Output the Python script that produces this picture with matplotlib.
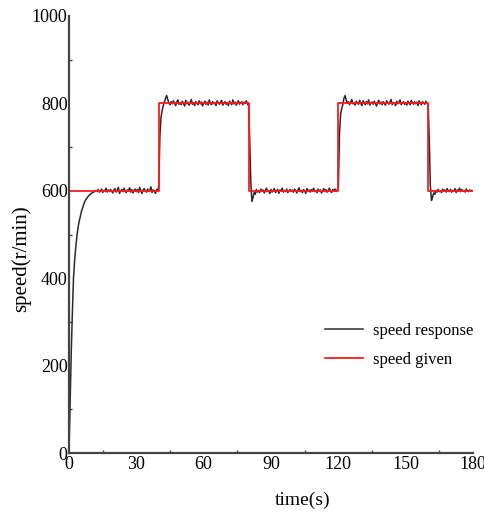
import numpy as np
import matplotlib.pyplot as plt
from matplotlib.ticker import MultipleLocator

plt.rcParams['font.family'] = ['Liberation Serif', 'DejaVu Serif']

# sample times (s), one value every 0.5 s
time = np.arange(0, 180, 0.5)

speed_response = [
    0, 120, 230, 320, 400, 440, 470, 495, 515, 530, 540, 552, 560, 568, 575, 580, 583, 587, 590, 592,
    594, 596, 597, 599, 601, 598, 603, 597, 600, 604, 596, 601, 599, 606, 597, 602, 598, 603, 600, 595,
    602, 605, 597, 601, 608, 594, 600, 603, 598, 606, 599, 596, 602, 600, 607, 597, 603, 595, 601, 604,
    598, 603, 596, 608, 600, 594, 602, 605, 599, 597, 604, 598, 601, 609, 596, 602, 600, 594, 603, 599,
    612, 725, 768, 784, 795, 803, 811, 818, 809, 801, 797, 804, 799, 806, 801, 795, 803, 808, 798, 802,
    797, 805, 800, 794, 807, 799, 803, 796, 801, 809, 798, 802, 795, 804, 800, 797, 806, 799, 803, 794,
    801, 805, 798, 803, 796, 808, 800, 797, 804, 799, 802, 795, 806, 801, 798, 803, 807, 796, 800, 804,
    798, 802, 795, 805, 801, 797, 808, 799, 803, 796, 802, 806, 798, 801, 804, 797, 803, 800, 806, 799,
    795, 720, 620, 576, 585, 596, 592, 603, 597, 601, 596, 604, 599, 602, 595, 601, 606, 598, 600, 594,
    603, 597, 601, 605, 596, 600, 603, 594, 602, 599, 606, 597, 601, 598, 604, 596, 600, 603, 598, 602,
    597, 604, 600, 595, 602, 607, 598, 601, 596, 603, 600, 594, 605, 599, 602, 597, 603, 600, 606, 598,
    601, 596, 604, 599, 602, 595, 600, 605, 598, 603, 597, 601, 606, 599, 596, 603, 600, 604, 598, 602,
    608, 730, 775, 788, 797, 812, 818, 808, 800, 804, 797, 803, 809, 799, 802, 796, 805, 801, 798, 807,
    800, 795, 806, 802, 797, 804, 799, 808, 796, 801, 803, 798, 805, 800, 794, 802, 807, 799, 803, 797,
    804, 800, 796, 806, 801, 798, 803, 809, 797, 802, 800, 795, 805, 799, 803, 808, 797, 801, 804, 798,
    802, 796, 805, 800, 797, 807, 801, 798, 804, 799, 803, 795, 806, 800, 797, 804, 801, 798, 805, 800,
    797, 720, 612, 578, 586, 595, 592, 601, 597, 603, 598, 600, 596, 604, 599, 602, 597, 605, 600, 598,
    603, 597, 601, 599, 605, 596, 602, 600, 606, 598, 603, 599, 601, 597, 604, 600, 598, 602, 599, 601,
]

# reference speed: step times (s) and levels (r/min)
given_time = [0, 40, 40, 80, 80, 120, 120, 160, 160, 179.5]
given_speed = [600, 600, 800, 800, 600, 600, 800, 800, 600, 600]

fig = plt.figure(figsize=(4.85, 5.17), dpi=100)
ax = fig.add_axes([69 / 485, 1 - 453 / 517, 404 / 485, 437 / 517])

ax.plot(time, speed_response, color='#2a2a2a', lw=1.1, label='speed response')
ax.plot(given_time, given_speed, color='#ff1a1a', lw=1.3, label='speed given')

ax.set_xlim(0, 180)
ax.set_ylim(0, 1000)
ax.xaxis.set_major_locator(MultipleLocator(30))
ax.xaxis.set_minor_locator(MultipleLocator(15))
ax.yaxis.set_major_locator(MultipleLocator(200))
ax.yaxis.set_minor_locator(MultipleLocator(100))

for s in ['top', 'right']:
    ax.spines[s].set_visible(False)
for s in ['left', 'bottom']:
    ax.spines[s].set_linewidth(1.6)
    ax.spines[s].set_color('#444444')

ax.tick_params(which='both', direction='in', colors='#444444', labelcolor='black',
               labelsize=13, pad=1)
ax.tick_params(axis='x', which='major', pad=2)
ax.tick_params(which='major', length=0)
ax.tick_params(which='minor', length=2.5, width=1)

fig.text(21 / 485, 1 - 259 / 517, 'speed(r/min)', rotation=90, fontsize=15,
         ha='center', va='center')
fig.text(303 / 485, 1 - 500 / 517, 'time(s)', fontsize=14, ha='center', va='center')

ax.legend(loc='upper left', bbox_to_anchor=(256 / 404, (453 - 323) / 437),
          frameon=False, fontsize=12, handlelength=2.3, handletextpad=0.6,
          labelspacing=0.75, borderpad=0, borderaxespad=0)

fig.savefig('out.png', dpi=100)
